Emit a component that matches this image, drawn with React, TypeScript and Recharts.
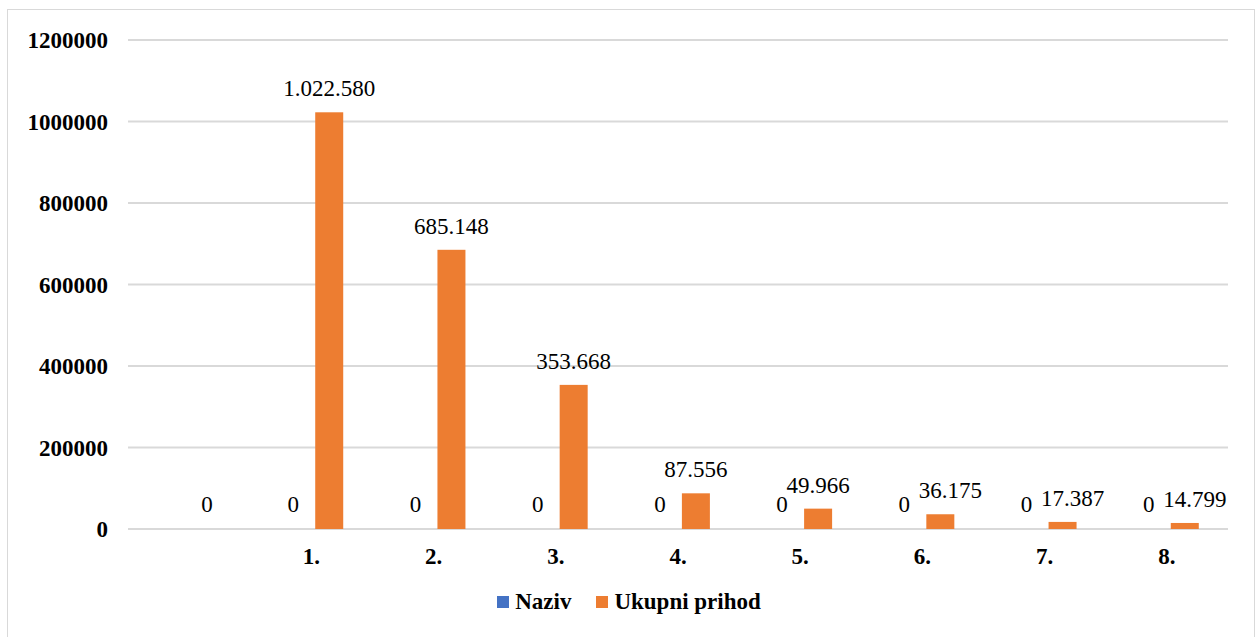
import React from 'react';
import { BarChart, Bar, XAxis, YAxis, CartesianGrid, LabelList } from 'recharts';

const categories = ['', '1.', '2.', '3.', '4.', '5.', '6.', '7.', '8.'];
const naziv = [null, 0, 0, 0, 0, 0, 0, 0, 0];
const ukupniPrihod = [0, 1022580, 685148, 353668, 87556, 49966, 36175, 17387, 14799];
const yTicks = [0, 200000, 400000, 600000, 800000, 1000000, 1200000];
const seriesNames = ['Naziv', 'Ukupni prihod'];

const data = categories.map((c, i) => ({ name: c, naziv: naziv[i], prihod: ukupniPrihod[i] }));

const FONT = "'Liberation Serif', 'Times New Roman', serif";
const BLUE = '#4472C4';
const ORANGE = '#ED7D31';
const COLORS = [BLUE, ORANGE];

const fmt = (v: number) => String(v).replace(/\B(?=(\d{3})+(?!\d))/g, '.');

const ValueLabel = (props: any) => {
  const { x, y, width, height, value, nudge } = props;
  if (value == null) return null;
  // short orange bars: label would hit the blue "0", Excel nudges it right
  const dx = nudge && value > 0 && Math.abs(height) < 18 ? 10 : 0;
  return (
    <text x={x + width / 2 + dx} y={y - 24} dy="0.355em" textAnchor="middle" style={{ fontFamily: FONT, fontSize: 23, fill: '#000' }}>
      {fmt(value)}
    </text>
  );
};

// zero values get a 1px minPointSize so their label is kept; don't paint them
const BarShape = (props: any) => {
  const { x, y, width, height, fill } = props;
  if (Math.abs(height) <= 1) return null;
  return <rect x={x} y={y} width={width} height={height} fill={fill} />;
};

const App: React.FC = () => {
  return (
    <div style={{ position: 'relative', width: 1258, height: 637, background: '#fff', overflow: 'hidden' }}>
      <style>{`body{margin:0}`}</style>
      <div style={{ position: 'absolute', left: 7, top: 9, width: 1246, height: 660, border: '1px solid #d9d9d9' }} />
      <div style={{ position: 'absolute', left: 0, top: 0 }}>
        <BarChart width={1258} height={637} data={data} margin={{ top: 40, right: 30, bottom: 78, left: 0 }} barSize={28} barGap={8}>
          <CartesianGrid vertical={false} stroke="#d9d9d9" strokeWidth={2} />
          <XAxis
            dataKey="name"
            height={30}
            axisLine={false}
            tickLine={false}
            tickMargin={13}
            interval={0}
            tick={{ fontFamily: FONT, fontSize: 23, fontWeight: 'bold', fill: '#000' }}
          />
          <YAxis
            width={128}
            domain={[0, 1200000]}
            ticks={yTicks}
            axisLine={false}
            tickLine={false}
            tickMargin={14}
            tick={{ fontFamily: FONT, fontSize: 23, fontWeight: 'bold', fill: '#000' }}
          />
          <Bar dataKey="naziv" name={seriesNames[0]} fill={BLUE} minPointSize={1} shape={<BarShape />} isAnimationActive={false}>
            <LabelList dataKey="naziv" content={<ValueLabel />} />
          </Bar>
          <Bar dataKey="prihod" name={seriesNames[1]} fill={ORANGE} minPointSize={1} shape={<BarShape />} isAnimationActive={false}>
            <LabelList dataKey="prihod" content={<ValueLabel nudge />} />
          </Bar>
        </BarChart>
      </div>
      <div style={{ position: 'absolute', top: 589, left: 0, width: 1258, display: 'flex', justifyContent: 'center', alignItems: 'center', fontFamily: FONT, fontSize: 23, fontWeight: 'bold', color: '#000' }}>
        {seriesNames.map((n, i) => (
          <div key={n} style={{ display: 'flex', alignItems: 'center', marginRight: i === 0 ? 25 : 0 }}>
            <div style={{ width: 12, height: 12, background: COLORS[i], marginRight: 6 }} />
            <span>{n}</span>
          </div>
        ))}
      </div>
    </div>
  );
};

export default App;
